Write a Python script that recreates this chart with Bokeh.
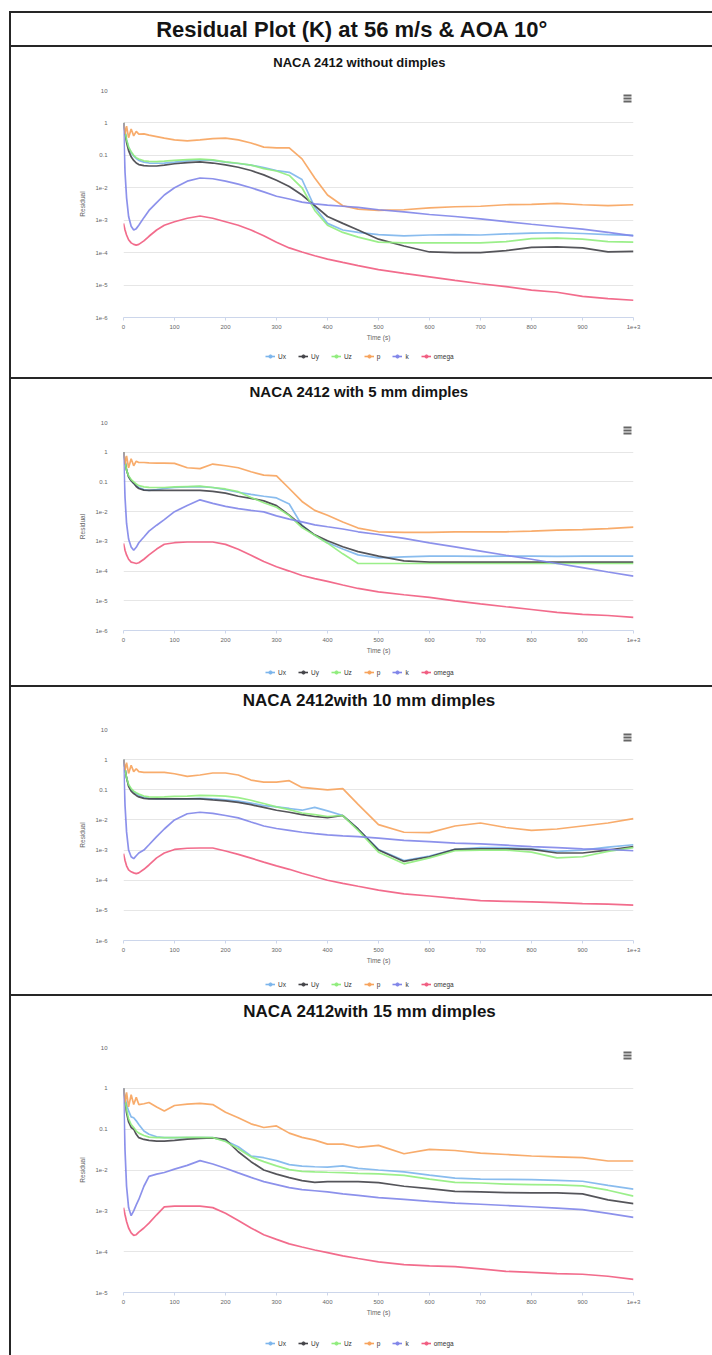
from bokeh.plotting import figure
from bokeh.models import Range1d, FixedTicker, Legend, LegendItem, Spacer, Label, BoxAnnotation
from bokeh.layouts import column, row
from bokeh.embed import file_html
from bokeh.resources import INLINE

# ---------------- data ----------------
main_title = "Residual Plot (K) at 56 m/s & AOA 10°"
panel_titles = ["NACA 2412 without dimples", "NACA 2412 with 5 mm dimples",
                "NACA 2412with 10 mm dimples", "NACA 2412with 15 mm dimples"]
series_names = ["Ux", "Uy", "Uz", "p", "k", "omega"]
series_colors = ["#7cb5ec", "#434348", "#90ed7d", "#f7a35c", "#8085e9", "#f15c80"]

time_s = [0, 3, 6, 10, 15, 20, 25, 30, 40, 50, 65, 80, 100, 125, 150, 175, 200, 225, 250, 275,
          300, 325, 350, 375, 400, 430, 460, 500, 550, 600, 650, 700, 750, 800, 850, 900, 950, 1000]

x_tick_values = [0, 100, 200, 300, 400, 500, 600, 700, 800, 900, 1000]
x_tick_labels = ["0", "100", "200", "300", "400", "500", "600", "700", "800", "900", "1e+3"]
y_tick_values = [1e-6, 1e-5, 1e-4, 1e-3, 1e-2, 0.1, 1, 10]
y_tick_labels = ["1e-6", "1e-5", "1e-4", "1e-3", "1e-2", "0.1", "1", "10"]
y_min = [1e-6, 1e-6, 1e-6, 1e-5]

# panel 1 : without dimples
ux_1 = [1.0, 0.55, 0.3, 0.18, 0.12, 0.095, 0.08, 0.07, 0.062, 0.058, 0.057, 0.058, 0.062, 0.068, 0.072, 0.07, 0.062, 0.056, 0.05, 0.042, 0.034, 0.03, 0.018, 2.5e-3, 8.0e-4, 5.0e-4, 4.2e-4, 3.6e-4, 3.3e-4, 3.5e-4, 3.6e-4, 3.5e-4, 3.8e-4, 4.0e-4, 4.1e-4, 3.9e-4, 3.6e-4, 3.4e-4]
uy_1 = [1.0, 0.5, 0.25, 0.14, 0.09, 0.07, 0.058, 0.052, 0.048, 0.047, 0.047, 0.05, 0.055, 0.06, 0.063, 0.058, 0.051, 0.043, 0.034, 0.025, 0.017, 0.011, 6.0e-3, 2.8e-3, 1.3e-3, 8.0e-4, 5.0e-4, 2.6e-4, 1.6e-4, 1.05e-4, 1.0e-4, 1.0e-4, 1.15e-4, 1.45e-4, 1.5e-4, 1.4e-4, 1.05e-4, 1.1e-4]
uz_1 = [1.0, 0.55, 0.3, 0.18, 0.13, 0.1, 0.085, 0.077, 0.068, 0.065, 0.064, 0.066, 0.07, 0.074, 0.077, 0.073, 0.063, 0.057, 0.05, 0.039, 0.033, 0.024, 0.01, 2.0e-3, 7.0e-4, 4.2e-4, 3.0e-4, 2.1e-4, 2.0e-4, 2.0e-4, 2.0e-4, 2.0e-4, 2.2e-4, 2.7e-4, 2.8e-4, 2.6e-4, 2.2e-4, 2.1e-4]
p_1 = [1.0, 0.45, 0.8, 0.35, 0.65, 0.4, 0.55, 0.45, 0.46, 0.42, 0.38, 0.34, 0.3, 0.28, 0.3, 0.33, 0.34, 0.3, 0.24, 0.18, 0.17, 0.17, 0.078, 0.02, 6.0e-3, 2.8e-3, 2.2e-3, 2.0e-3, 2.1e-3, 2.4e-3, 2.6e-3, 2.7e-3, 3.0e-3, 3.1e-3, 3.3e-3, 3.0e-3, 2.8e-3, 3.0e-3]
k_1 = [1.0, 0.03, 5.0e-3, 1.3e-3, 6.5e-4, 5.0e-4, 5.5e-4, 7.0e-4, 1.2e-3, 2.0e-3, 3.5e-3, 6.0e-3, 0.01, 0.016, 0.02, 0.019, 0.016, 0.013, 0.01, 7.5e-3, 5.5e-3, 4.5e-3, 3.6e-3, 3.2e-3, 2.9e-3, 2.7e-3, 2.5e-3, 2.1e-3, 1.8e-3, 1.5e-3, 1.3e-3, 1.1e-3, 9.0e-4, 7.5e-4, 6.3e-4, 5.3e-4, 4.2e-4, 3.3e-4]
om_1 = [8.0e-4, 5.0e-4, 3.5e-4, 2.5e-4, 2.0e-4, 1.8e-4, 1.7e-4, 1.8e-4, 2.3e-4, 3.2e-4, 5.0e-4, 7.0e-4, 9.0e-4, 1.15e-3, 1.35e-3, 1.15e-3, 9.0e-4, 7.0e-4, 5.0e-4, 3.3e-4, 2.1e-4, 1.4e-4, 1.05e-4, 8.0e-5, 6.3e-5, 5.0e-5, 4.0e-5, 3.0e-5, 2.3e-5, 1.8e-5, 1.4e-5, 1.1e-5, 9.0e-6, 7.0e-6, 6.0e-6, 4.5e-6, 3.8e-6, 3.4e-6]

# panel 2 : 5 mm dimples
ux_2 = [1.0, 0.5, 0.25, 0.15, 0.11, 0.09, 0.075, 0.065, 0.055, 0.052, 0.055, 0.06, 0.065, 0.068, 0.07, 0.065, 0.055, 0.045, 0.038, 0.033, 0.029, 0.018, 3.5e-3, 1.6e-3, 9.0e-4, 5.5e-4, 3.5e-4, 2.8e-4, 3.0e-4, 3.2e-4, 3.2e-4, 3.1e-4, 3.2e-4, 3.2e-4, 3.1e-4, 3.2e-4, 3.2e-4, 3.2e-4]
uy_2 = [1.0, 0.5, 0.25, 0.15, 0.11, 0.09, 0.07, 0.06, 0.053, 0.052, 0.052, 0.052, 0.052, 0.052, 0.052, 0.048, 0.042, 0.033, 0.028, 0.023, 0.016, 7.6e-3, 3.4e-3, 1.66e-3, 1.05e-3, 6.6e-4, 4.5e-4, 3.2e-4, 2.2e-4, 2.0e-4, 2.0e-4, 2.0e-4, 2.0e-4, 2.0e-4, 2.0e-4, 2.0e-4, 2.0e-4, 2.0e-4]
uz_2 = [1.0, 0.5, 0.25, 0.16, 0.12, 0.1, 0.085, 0.075, 0.068, 0.066, 0.065, 0.065, 0.068, 0.07, 0.072, 0.065, 0.058, 0.047, 0.03, 0.02, 0.014, 7.4e-3, 2.9e-3, 1.6e-3, 8.7e-4, 3.8e-4, 1.8e-4, 1.8e-4, 1.8e-4, 1.8e-4, 1.8e-4, 1.8e-4, 1.8e-4, 1.8e-4, 1.8e-4, 1.8e-4, 1.8e-4, 1.8e-4]
p_2 = [1.0, 0.4, 0.75, 0.3, 0.6, 0.35, 0.5, 0.45, 0.45, 0.44, 0.43, 0.43, 0.42, 0.3, 0.28, 0.4, 0.35, 0.3, 0.22, 0.17, 0.16, 0.06, 0.022, 0.011, 7.6e-3, 4.5e-3, 2.8e-3, 2.1e-3, 2.0e-3, 2.0e-3, 2.1e-3, 2.1e-3, 2.1e-3, 2.2e-3, 2.4e-3, 2.5e-3, 2.7e-3, 3.0e-3]
k_2 = [1.0, 0.03, 4.0e-3, 1.2e-3, 6.5e-4, 5.0e-4, 6.3e-4, 9.0e-4, 1.4e-3, 2.2e-3, 3.5e-3, 5.4e-3, 0.01, 0.016, 0.025, 0.019, 0.015, 0.0126, 0.011, 9.8e-3, 7.2e-3, 5.6e-3, 4.5e-3, 3.6e-3, 3.1e-3, 2.6e-3, 2.1e-3, 1.7e-3, 1.26e-3, 8.9e-4, 6.5e-4, 4.7e-4, 3.4e-4, 2.5e-4, 1.8e-4, 1.3e-4, 9.3e-5, 6.8e-5]
om_2 = [8.5e-4, 5.0e-4, 3.5e-4, 2.5e-4, 2.0e-4, 1.9e-4, 1.8e-4, 1.9e-4, 2.5e-4, 3.5e-4, 5.5e-4, 8.0e-4, 9.0e-4, 9.5e-4, 9.5e-4, 9.5e-4, 7.9e-4, 5.4e-4, 3.4e-4, 2.1e-4, 1.4e-4, 1.0e-4, 7.1e-5, 5.6e-5, 4.5e-5, 3.4e-5, 2.6e-5, 2.0e-5, 1.6e-5, 1.3e-5, 1.0e-5, 7.9e-6, 6.3e-6, 5.1e-6, 4.1e-6, 3.5e-6, 3.2e-6, 2.75e-6]

# panel 3 : 10 mm dimples
ux_3 = [1.0, 0.5, 0.25, 0.14, 0.1, 0.085, 0.075, 0.065, 0.055, 0.052, 0.05, 0.05, 0.05, 0.05, 0.052, 0.05, 0.046, 0.042, 0.036, 0.03, 0.027, 0.024, 0.021, 0.026, 0.02, 0.014, 5.0e-3, 1.05e-3, 4.5e-4, 6.3e-4, 1.05e-3, 1.2e-3, 1.2e-3, 1.1e-3, 9.0e-4, 1.0e-3, 1.26e-3, 1.5e-3]
uy_3 = [1.0, 0.5, 0.25, 0.13, 0.09, 0.075, 0.065, 0.058, 0.052, 0.05, 0.05, 0.05, 0.05, 0.05, 0.05, 0.046, 0.043, 0.038, 0.032, 0.026, 0.021, 0.018, 0.015, 0.013, 0.012, 0.014, 5.0e-3, 1.0e-3, 4.2e-4, 6.0e-4, 1.05e-3, 1.1e-3, 1.1e-3, 1.05e-3, 8.0e-4, 8.0e-4, 1.0e-3, 1.3e-3]
uz_3 = [1.0, 0.5, 0.25, 0.15, 0.11, 0.09, 0.08, 0.072, 0.062, 0.058, 0.057, 0.058, 0.06, 0.062, 0.065, 0.064, 0.062, 0.055, 0.045, 0.035, 0.027, 0.022, 0.017, 0.015, 0.013, 0.014, 4.5e-3, 8.5e-4, 3.5e-4, 5.5e-4, 9.5e-4, 1.0e-3, 1.0e-3, 8.5e-4, 5.5e-4, 6.0e-4, 9.0e-4, 1.2e-3]
p_3 = [1.0, 0.45, 0.8, 0.35, 0.65, 0.4, 0.5, 0.4, 0.38, 0.38, 0.38, 0.38, 0.34, 0.28, 0.31, 0.36, 0.36, 0.31, 0.21, 0.18, 0.18, 0.2, 0.12, 0.11, 0.1, 0.11, 0.033, 7.0e-3, 3.9e-3, 3.8e-3, 6.3e-3, 7.9e-3, 5.6e-3, 4.5e-3, 5.0e-3, 6.3e-3, 7.9e-3, 0.011]
k_3 = [1.0, 0.03, 4.0e-3, 1.0e-3, 6.0e-4, 5.2e-4, 6.5e-4, 8.0e-4, 1.0e-3, 1.5e-3, 2.8e-3, 5.0e-3, 0.01, 0.016, 0.018, 0.0166, 0.014, 0.0117, 8.5e-3, 6.3e-3, 5.2e-3, 4.5e-3, 3.9e-3, 3.5e-3, 3.2e-3, 2.95e-3, 2.8e-3, 2.5e-3, 2.1e-3, 1.9e-3, 1.7e-3, 1.6e-3, 1.45e-3, 1.3e-3, 1.2e-3, 1.1e-3, 1.05e-3, 9.5e-4]
om_3 = [7.6e-4, 4.5e-4, 3.0e-4, 2.2e-4, 1.9e-4, 1.75e-4, 1.65e-4, 1.75e-4, 2.3e-4, 3.2e-4, 5.5e-4, 8.0e-4, 1.05e-3, 1.15e-3, 1.17e-3, 1.17e-3, 9.3e-4, 7.2e-4, 5.4e-4, 4.0e-4, 3.0e-4, 2.3e-4, 1.7e-4, 1.3e-4, 1.0e-4, 7.9e-5, 6.3e-5, 4.7e-5, 3.5e-5, 3.0e-5, 2.5e-5, 2.1e-5, 2.0e-5, 1.9e-5, 1.8e-5, 1.66e-5, 1.6e-5, 1.5e-5]

# panel 4 : 15 mm dimples
ux_4 = [1.0, 0.6, 0.4, 0.28, 0.2, 0.19, 0.16, 0.13, 0.09, 0.075, 0.065, 0.062, 0.062, 0.062, 0.062, 0.062, 0.052, 0.037, 0.022, 0.02, 0.017, 0.0135, 0.0125, 0.012, 0.0117, 0.0126, 0.011, 0.01, 9.0e-3, 7.5e-3, 6.3e-3, 6.0e-3, 5.9e-3, 5.8e-3, 5.6e-3, 5.3e-3, 4.2e-3, 3.4e-3]
uy_4 = [1.0, 0.5, 0.25, 0.15, 0.11, 0.1, 0.075, 0.062, 0.056, 0.053, 0.051, 0.051, 0.053, 0.057, 0.059, 0.061, 0.056, 0.028, 0.016, 0.01, 7.9e-3, 6.5e-3, 5.5e-3, 5.0e-3, 5.2e-3, 5.2e-3, 5.2e-3, 4.9e-3, 4.0e-3, 3.5e-3, 3.0e-3, 2.9e-3, 2.8e-3, 2.75e-3, 2.75e-3, 2.6e-3, 1.86e-3, 1.5e-3]
uz_4 = [1.0, 0.55, 0.3, 0.18, 0.13, 0.11, 0.09, 0.08, 0.07, 0.064, 0.062, 0.062, 0.062, 0.063, 0.063, 0.062, 0.05, 0.033, 0.021, 0.016, 0.0126, 0.0102, 9.3e-3, 9.0e-3, 8.8e-3, 8.6e-3, 8.3e-3, 8.0e-3, 7.4e-3, 6.0e-3, 5.0e-3, 4.8e-3, 4.5e-3, 4.4e-3, 4.3e-3, 4.1e-3, 3.2e-3, 2.3e-3]
p_4 = [1.0, 0.45, 0.8, 0.35, 0.7, 0.4, 0.6, 0.4, 0.42, 0.45, 0.35, 0.28, 0.38, 0.41, 0.43, 0.4, 0.26, 0.19, 0.135, 0.11, 0.12, 0.08, 0.063, 0.054, 0.043, 0.043, 0.036, 0.04, 0.025, 0.032, 0.03, 0.026, 0.024, 0.022, 0.021, 0.02, 0.0166, 0.0166]
k_4 = [1.0, 0.03, 4.0e-3, 1.2e-3, 7.6e-4, 1.0e-3, 1.4e-3, 1.9e-3, 4.0e-3, 7.0e-3, 7.9e-3, 8.7e-3, 0.0105, 0.013, 0.017, 0.014, 0.011, 8.5e-3, 6.6e-3, 5.2e-3, 4.4e-3, 3.7e-3, 3.3e-3, 3.1e-3, 2.9e-3, 2.6e-3, 2.4e-3, 2.1e-3, 1.9e-3, 1.7e-3, 1.55e-3, 1.45e-3, 1.35e-3, 1.26e-3, 1.17e-3, 1.07e-3, 8.7e-4, 6.9e-4]
om_4 = [1.2e-3, 8.0e-4, 5.5e-4, 3.8e-4, 2.9e-4, 2.5e-4, 2.6e-4, 3.0e-4, 3.8e-4, 5.0e-4, 8.0e-4, 1.25e-3, 1.3e-3, 1.3e-3, 1.3e-3, 1.2e-3, 8.7e-4, 5.8e-4, 3.8e-4, 2.6e-4, 2.0e-4, 1.55e-4, 1.3e-4, 1.1e-4, 9.5e-5, 7.9e-5, 6.8e-5, 5.6e-5, 4.8e-5, 4.5e-5, 4.3e-5, 3.8e-5, 3.3e-5, 3.1e-5, 2.9e-5, 2.8e-5, 2.5e-5, 2.1e-5]

panel_series = [
    [ux_1, uy_1, uz_1, p_1, k_1, om_1],
    [ux_2, uy_2, uz_2, p_2, k_2, om_2],
    [ux_3, uy_3, uz_3, p_3, k_3, om_3],
    [ux_4, uy_4, uz_4, p_4, k_4, om_4],
]

# ---------------- layout / style ----------------
FONT = "Liberation Sans"
INNER_W = 701
BORDER = "#262626"
LEFT, RIGHT = 112, 79              # frame spans x = 123 .. 633 on the page
FRAME_W = INNER_W - LEFT - RIGHT

# title: (height, font size, horizontal centre as fraction of frame)
header_cfg = (32, "22px", 0.449)
# title h, title size, title x-frac, chart h, border T, B, legend h, legend vy, gap after
panel_layout = [
    (30, "13px", 0.463, 270, 13, 30, 14, 1, 16),
    (24, "15px", 0.462, 257, 19, 30, 20, 4, 5),
    (26, "17px", 0.482, 257, 16, 30, 24, 6, 0),
    (30, "17px", 0.483, 296, 21, 30, 33, 8, 0),
]
LEGEND_X = 142


def bar(w, h):
    return Spacer(width=w, height=h, styles={"background-color": BORDER})


def blank_fig(h):
    return figure(width=INNER_W, height=h, x_range=Range1d(0, 1), y_range=Range1d(0, 1),
                  x_axis_type=None, y_axis_type=None, toolbar_location=None,
                  output_backend="svg", min_border=0, min_border_left=0, min_border_right=0,
                  min_border_top=0, min_border_bottom=0, outline_line_color=None)


def title_fig(text, h, size, xfrac):
    f = blank_fig(h)
    f.add_layout(Label(x=xfrac, y=0.5, text=text, text_align="center", text_baseline="middle",
                       text_font=FONT, text_font_size=size, text_font_style="bold",
                       text_color="#141414"))
    return f


def legend_fig(series, h, vy):
    f = blank_fig(h)
    items = []
    for name, color, vals in zip(series_names, series_colors, series):
        ln = f.line(time_s, vals, line_color=color, line_width=1.6, visible=False)
        dot = f.scatter(time_s, vals, marker="circle", fill_color=color, line_color=color,
                        visible=False)
        items.append(LegendItem(label=name, renderers=[ln, dot]))
    f.add_layout(Legend(items=items, orientation="horizontal", location=(LEGEND_X, vy),
                        label_text_font=FONT, label_text_font_size="6.5px",
                        label_text_color="#333333", glyph_width=10, glyph_height=8,
                        label_width=0, label_height=8, label_standoff=3, spacing=12,
                        padding=2, margin=0, border_line_color=None,
                        background_fill_alpha=0))
    return f


def chart(series, h, ymin, top, bottom):
    f = figure(width=INNER_W, height=h, x_range=Range1d(0, 1000), y_range=Range1d(ymin, 10),
               y_axis_type="log", toolbar_location=None, output_backend="svg",
               min_border_left=LEFT, min_border_right=RIGHT,
               min_border_top=top, min_border_bottom=bottom,
               outline_line_color=None)
    for color, vals in zip(series_colors, series):
        f.line(time_s, vals, line_color=color, line_width=1.7, line_alpha=0.9)

    f.yaxis.ticker = FixedTicker(ticks=[v for v in y_tick_values if v >= ymin])
    f.yaxis.major_label_overrides = {v: l for v, l in zip(y_tick_values, y_tick_labels) if v >= ymin}
    f.xaxis.ticker = FixedTicker(ticks=x_tick_values)
    f.xaxis.major_label_overrides = {v: l for v, l in zip(x_tick_values, x_tick_labels)}

    f.xgrid.visible = False
    f.ygrid.grid_line_color = "#e6e6e6"
    f.ygrid.grid_line_width = 1

    f.yaxis.axis_line_color = None
    f.yaxis.major_tick_line_color = None
    f.yaxis.minor_tick_line_color = None
    f.yaxis.major_label_standoff = 10
    f.yaxis.axis_label = "Residual"
    f.yaxis.axis_label_standoff = 6

    f.xaxis.axis_line_color = "#ccd6eb"
    f.xaxis.major_tick_line_color = "#ccd6eb"
    f.xaxis.major_tick_in = 0
    f.xaxis.major_tick_out = 3
    f.xaxis.minor_tick_line_color = None
    f.xaxis.major_label_standoff = 4
    f.xaxis.axis_label = "Time (s)"
    f.xaxis.axis_label_standoff = 2

    for ax in (f.xaxis, f.yaxis):
        ax.major_label_text_font = FONT
        ax.major_label_text_font_size = "6px"
        ax.major_label_text_color = "#666666"
        ax.axis_label_text_font = FONT
        ax.axis_label_text_font_size = "6.5px"
        ax.axis_label_text_font_style = "normal"
        ax.axis_label_text_color = "#666666"

    # context-menu (hamburger) icon in the top-right corner of the plot area
    fh = h - top - bottom
    for off in (4, 7, 10):
        f.add_layout(BoxAnnotation(left=FRAME_W - 10, right=FRAME_W - 2,
                                   top=fh - off, bottom=fh - off - 2,
                                   left_units="screen", right_units="screen",
                                   top_units="screen", bottom_units="screen",
                                   fill_color="#666666", fill_alpha=1.0, line_color=None))
    return f


children = [bar(INNER_W, 2), title_fig(main_title, *header_cfg), bar(INNER_W, 2)]
for i, (th, tsize, tx, ch, t, b, lh, vy, gap) in enumerate(panel_layout):
    if i > 0:
        children.append(bar(INNER_W, 2))
    children.append(title_fig(panel_titles[i], th, tsize, tx))
    children.append(chart(panel_series[i], ch, y_min[i], t, b))
    children.append(legend_fig(panel_series[i], lh, vy))
    if gap:
        children.append(Spacer(width=INNER_W, height=gap))

inner = column(children, spacing=0)
body_h = sum(c.height for c in children)
body = row([Spacer(width=9, height=body_h), bar(2, body_h), inner], spacing=0)
page = column([Spacer(width=712, height=11), body], spacing=0)

open("out.html", "w").write(file_html(page, INLINE, title="Residual Plot"))
